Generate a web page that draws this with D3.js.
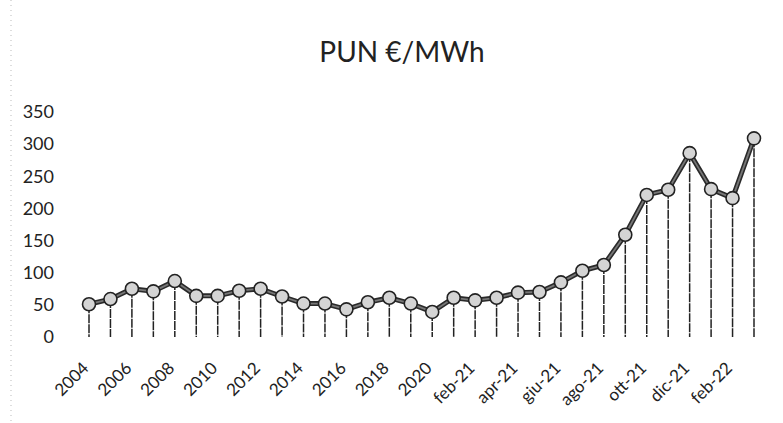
<!DOCTYPE html>
<html><head><meta charset="utf-8">
<script src="https://cdn.jsdelivr.net/npm/d3@7"></script>
<style>body{margin:0;background:#fff}svg{display:block}text{font-family:Lato,"Open Sans",sans-serif;fill:#222}</style>
</head><body>
<script>
const categories = ["2004","2005","2006","2007","2008","2009","2010","2011","2012","2013","2014","2015","2016","2017","2018","2019","2020",
  "gen-21","feb-21","mar-21","apr-21","mag-21","giu-21","lug-21","ago-21","set-21","ott-21","nov-21","dic-21","gen-22","feb-22","mar-22"];
const pun = [51,59,75,71,87,64,64,72,75,63,52,52,43,54,61,52,39,
  61,57,61,69,70,85,103,112,159,221,229,286,230,216,309];
const yTicks = [0,50,100,150,200,250,300,350];
const title = "PUN €/MWh";

const W = 783, H = 423;
const svg = d3.select("body").append("svg").attr("width", W).attr("height", H);

// faint scanned border at left
svg.append("line").attr("x1",11).attr("x2",11).attr("y1",0).attr("y2",H)
  .attr("stroke","#bbb").attr("stroke-width",1).attr("stroke-dasharray","1,4");

const x = d3.scalePoint().domain(categories).range([89, 754]);
const y = d3.scaleLinear().domain([0, 350]).range([337, 112]);

svg.append("text").attr("x", 402).attr("y", 62).attr("text-anchor","middle")
  .style("font-size","28px").text(title);

// y axis labels
const yAxis = d3.axisLeft(y).tickValues(yTicks).tickSize(0).tickPadding(0);
const gy = svg.append("g").attr("transform","translate(54,0)").call(yAxis);
gy.select(".domain").remove();
gy.selectAll("text").style("font-size","18px").attr("fill","#222").attr("font-family","Lato");

// x axis labels
const xAxis = d3.axisBottom(x).tickValues(categories.filter((d,i)=>i%2===0)).tickSize(0);
const gx = svg.append("g").attr("transform","translate(0,337)").call(xAxis);
gx.select(".domain").remove();
gx.selectAll("text").style("font-size","17px").attr("fill","#222").attr("font-family","Lato")
  .attr("text-anchor","end").attr("dy","0.35em")
  .attr("transform","translate(-4,28) rotate(-45)").attr("y",0).attr("x",0);

// drop lines
svg.append("g").selectAll("line").data(categories).join("line")
  .attr("x1", d=>x(d)).attr("x2", d=>x(d))
  .attr("y1", (d,i)=>y(pun[i])).attr("y2", y(0))
  .attr("stroke","#222").attr("stroke-width",1.5).attr("stroke-dasharray","9,1");

// line
const line = d3.line().x((d,i)=>x(categories[i])).y(d=>y(d));
svg.append("path").datum(pun).attr("d", line).attr("fill","none")
  .attr("stroke","#2a2a2a").attr("stroke-width",5).attr("stroke-linejoin","round");
svg.append("path").datum(pun).attr("d", line).attr("fill","none")
  .attr("stroke","#777").attr("stroke-width",1.8).attr("stroke-linejoin","round");

// markers
svg.append("g").selectAll("circle").data(pun).join("circle")
  .attr("cx",(d,i)=>x(categories[i])).attr("cy",d=>y(d)).attr("r",6.5)
  .attr("fill","#d4d4d4").attr("stroke","#222").attr("stroke-width",1.6);
</script>
</body></html>
